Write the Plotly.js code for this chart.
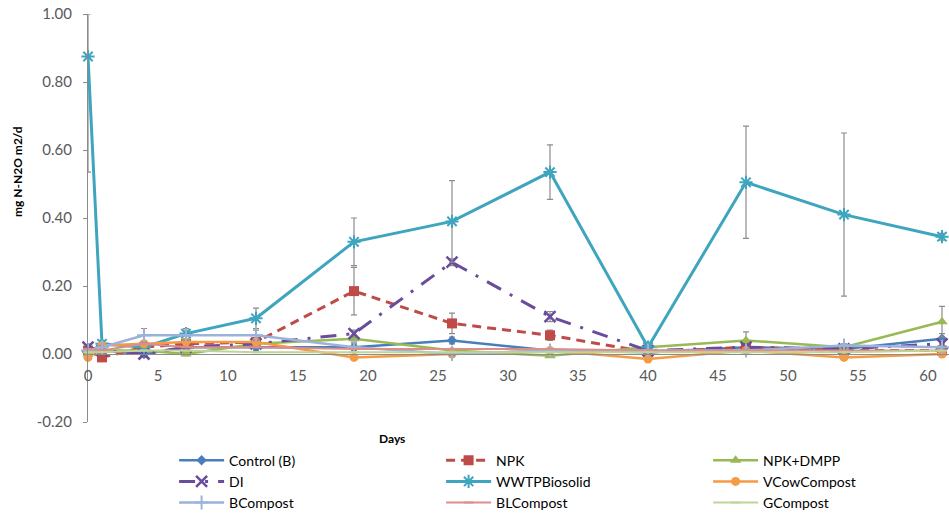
<!DOCTYPE html>
<html>
<head>
<meta charset="utf-8">
<script src="https://cdn.plot.ly/plotly-3.0.1.min.js"></script>
<style>html,body{margin:0;padding:0;background:#fff;}#chart{width:949px;height:515px;}</style>
</head>
<body>
<div id="chart"></div>
<script>
const days = [0, 1, 4, 7, 12, 19, 26, 33, 40, 47, 54, 61];

const seriesNames = ["Control (B)", "NPK", "NPK+DMPP", "DI", "WWTPBiosolid", "VCowCompost", "BCompost", "BLCompost", "GCompost"];

const control    = [0.01, 0.01, 0.00, 0.02, 0.02, 0.02, 0.04, 0.01, 0.005, 0.02, 0.015, 0.045];
const controlErr = [0.01, 0.005, 0.01, 0.01, 0.01, 0.01, 0.01, 0.005, 0.005, 0.01, 0.005, 0.015];

const npk    = [0.01, -0.01, 0.02, 0.03, 0.035, 0.185, 0.09, 0.055, 0.005, 0.02, 0.01, 0.01];
const npkErr = [0.01, 0.005, 0.01, 0.01, 0.01, 0.07, 0.03, 0.015, 0.005, 0.01, 0.005, 0.01];

const npkDmpp    = [0.0, 0.01, 0.01, 0.0, 0.03, 0.045, 0.01, -0.005, 0.02, 0.04, 0.02, 0.095];
const npkDmppErr = [0.005, 0.005, 0.005, 0.005, 0.01, 0.01, 0.005, 0.005, 0.005, 0.025, 0.005, 0.045];

const di    = [0.02, 0.01, 0.0, 0.02, 0.03, 0.06, 0.27, 0.11, 0.01, 0.02, 0.015, 0.03];
const diErr = [0.01, 0.005, 0.005, 0.01, 0.01, 0.01, 0.01, 0.015, 0.005, 0.005, 0.005, 0.01];

const wwtp          = [0.875, 0.03, 0.02, 0.06, 0.105, 0.33, 0.39, 0.535, 0.02, 0.505, 0.41, 0.345];
const wwtpErrPlus   = [0.125, 0.01, 0.01, 0.015, 0.03, 0.07, 0.12, 0.08, 0.01, 0.165, 0.24, 0.01];
const wwtpErrMinus  = [0.34, 0.01, 0.01, 0.015, 0.03, 0.07, 0.12, 0.08, 0.01, 0.165, 0.24, 0.01];

const vcow    = [-0.01, 0.025, 0.03, 0.035, 0.035, -0.01, 0.0, 0.01, -0.015, 0.01, -0.01, 0.0];
const vcowErr = [0.005, 0.005, 0.005, 0.005, 0.005, 0.005, 0.005, 0.005, 0.005, 0.005, 0.005, 0.005];

const bcomp    = [0.01, 0.02, 0.055, 0.055, 0.055, 0.02, 0.0, 0.01, 0.01, 0.01, 0.025, 0.02];
const bcompErr = [0.005, 0.005, 0.02, 0.015, 0.015, 0.005, 0.005, 0.005, 0.005, 0.005, 0.005, 0.005];

const blcomp = [0.015, 0.01, 0.03, 0.02, 0.02, 0.015, 0.015, 0.015, 0.01, 0.01, 0.01, 0.01];
const gcomp  = [0.005, 0.005, 0.01, 0.01, 0.005, 0.005, 0.005, 0.005, 0.005, 0.005, 0.005, 0.01];

const yTickVals = [-0.2, 0, 0.2, 0.4, 0.6, 0.8, 1.0];
const yTickText = ["-0.20", "0.00", "0.20", "0.40", "0.60", "0.80", "1.00"];
const xTickVals = [0, 5, 10, 15, 20, 25, 30, 35, 40, 45, 50, 55, 60];

const errStyle = {color: "#8c8c8c", thickness: 1.2, width: 3};
function err(arr, minus) {
  const e = Object.assign({type: "data", array: arr, visible: true}, errStyle);
  if (minus) { e.symmetric = false; e.arrayminus = minus; }
  return e;
}

const traces = [
  {name: seriesNames[0], x: days, y: control, mode: "lines+markers",
   line: {color: "#4A7EBB", width: 2.5}, marker: {symbol: "diamond", size: 8, color: "#4A7EBB"},
   error_y: err(controlErr)},
  {name: seriesNames[1], x: days, y: npk, mode: "lines+markers",
   line: {color: "#BE4B48", width: 3, dash: "9px,6px"}, marker: {symbol: "square", size: 10, color: "#BE4B48"},
   error_y: err(npkErr)},
  {name: seriesNames[2], x: days, y: npkDmpp, mode: "lines+markers",
   line: {color: "#98B954", width: 2.5}, marker: {symbol: "triangle-up", size: 10, color: "#98B954"},
   error_y: err(npkDmppErr)},
  {name: seriesNames[3], x: days, y: di, mode: "lines+markers",
   line: {color: "#6A4C9C", width: 3, dash: "16px,10px,3px,10px"},
   marker: {symbol: "x-thin-open", size: 11, color: "#6A4C9C", line: {width: 2.5, color: "#6A4C9C"}},
   error_y: err(diErr)},
  {name: seriesNames[4], x: days, y: wwtp, mode: "lines+markers",
   line: {color: "#3FA5BF", width: 3},
   marker: {symbol: "asterisk-open", size: 11, color: "#3FA5BF", line: {width: 2, color: "#3FA5BF"}},
   error_y: err(wwtpErrPlus, wwtpErrMinus)},
  {name: seriesNames[5], x: days, y: vcow, mode: "lines+markers",
   line: {color: "#F59A45", width: 2.5}, marker: {symbol: "circle", size: 9, color: "#F59A45"},
   error_y: err(vcowErr)},
  {name: seriesNames[6], x: days, y: bcomp, mode: "lines+markers",
   line: {color: "#9BB3DA", width: 2.5},
   marker: {symbol: "cross-thin-open", size: 10, color: "#9BB3DA", line: {width: 2, color: "#9BB3DA"}},
   error_y: err(bcompErr)},
  {name: seriesNames[7], x: days, y: blcomp, mode: "lines+markers",
   line: {color: "#DD8E8C", width: 2},
   marker: {symbol: "line-ew-open", size: 7, color: "#DD8E8C", line: {width: 2, color: "#DD8E8C"}}},
  {name: seriesNames[8], x: days, y: gcomp, mode: "lines+markers",
   line: {color: "#BDD597", width: 2},
   marker: {symbol: "line-ew-open", size: 7, color: "#BDD597", line: {width: 2, color: "#BDD597"}}}
];
traces.forEach(t => { t.type = "scatter"; t.cliponaxis = false; });

const font = "Lato, 'Liberation Sans', Arial, sans-serif";

const layout = {
  width: 949, height: 515,
  margin: {l: 88, r: 0, t: 14, b: 93, autoexpand: false},
  paper_bgcolor: "#ffffff", plot_bgcolor: "#ffffff",
  font: {family: font, size: 15, color: "#595959"},
  showlegend: true,
  xaxis: {
    range: [0, 61.5], anchor: "free", position: 0.2 / 1.2,
    tickvals: xTickVals, ticktext: xTickVals.map(String),
    showline: true, linecolor: "#8c8c8c", linewidth: 1,
    showgrid: false, zeroline: false, ticks: "outside", ticklen: 8, tickcolor: "rgba(0,0,0,0)",
    tickfont: {family: font, size: 15, color: "#595959"}, fixedrange: true
  },
  yaxis: {
    range: [-0.2, 1.0], tickvals: yTickVals, ticktext: yTickText,
    showline: true, linecolor: "#8c8c8c", linewidth: 1,
    showgrid: false, zeroline: false, ticks: "outside", ticklen: 4, tickcolor: "#8c8c8c",
    ticklabelstandoff: 8,
    tickfont: {family: font, size: 15, color: "#595959"}, fixedrange: true
  },
  legend: {
    orientation: "h", x: 0.1, xanchor: "left", y: -0.0554, yanchor: "top",
    entrywidth: 207, entrywidthmode: "pixels", tracegroupgap: 0,
    font: {family: font, size: 14, color: "#000000"}, itemwidth: 45,
    bgcolor: "rgba(0,0,0,0)"
  },
  annotations: [
    {text: "<b>mg N-N2O m2/d</b>", xref: "paper", yref: "paper",
     x: (18 - 88) / 861, y: (422 - 172) / 408, xanchor: "center", yanchor: "middle",
     textangle: -90, showarrow: false,
     font: {family: font, size: 12, color: "#000000"}},
    {text: "<b>Days</b>", xref: "paper", yref: "paper",
     x: (392 - 88) / 861, y: (422 - 438) / 408, xanchor: "center", yanchor: "middle",
     showarrow: false,
     font: {family: font, size: 12, color: "#000000"}}
  ]
};

Plotly.newPlot("chart", traces, layout, {displayModeBar: false, staticPlot: true});
</script>
</body>
</html>
